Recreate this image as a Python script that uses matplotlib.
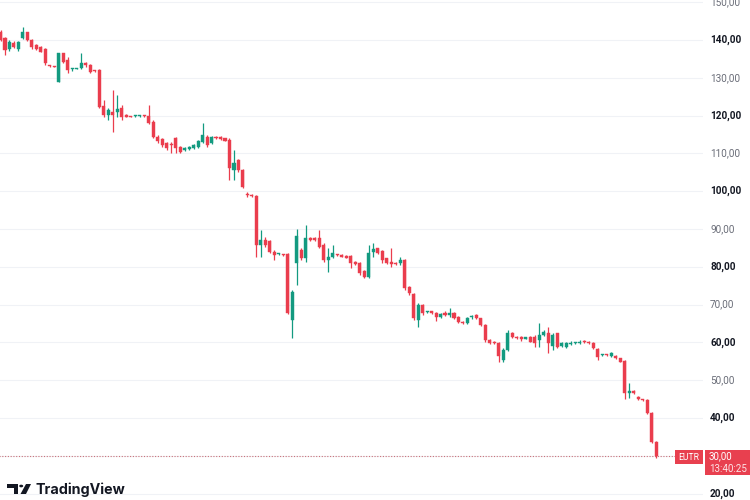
import matplotlib
matplotlib.use('Agg')
import matplotlib.pyplot as plt
from matplotlib.patches import Rectangle, Polygon, Circle

opens = [142.2,140.4,137.5,139.3,137.5,140.4,142.0,140.0,138.7,138.2,
         137.5,133.2,133.0,129.0,136.5,134.7,132.2,132.4,132.5,134.0,
         133.4,131.9,132.1,122.5,120.2,121.0,121.0,121.9,120.2,119.8,
         119.8,119.9,120.0,119.9,118.4,114.4,113.7,112.7,112.3,114.1,
         111.8,110.9,111.1,111.4,111.8,113.1,114.4,112.8,114.4,114.4,
         114.0,113.5,105.6,108.2,105.6,99.1,98.9,98.7,85.8,87.1,
         86.9,84.0,83.3,83.2,83.4,65.9,80.9,84.4,82.2,87.5,
         87.5,87.5,85.8,81.8,82.7,83.2,83.1,82.9,82.9,81.3,
         80.9,78.9,77.4,84.0,84.9,84.2,82.2,81.3,81.1,80.9,
         81.8,74.7,72.7,65.9,69.9,68.0,68.0,67.9,66.8,67.9,
         67.3,67.9,66.8,65.5,65.0,66.7,67.2,66.4,64.6,60.6,
         60.2,59.9,55.3,58.0,62.6,61.5,61.4,61.0,61.5,61.5,
         60.6,62.0,62.5,59.0,62.4,59.0,58.9,59.6,59.9,59.8,
         60.2,60.2,59.9,58.2,56.6,56.7,56.4,56.4,55.8,55.2,
         46.5,47.2,45.6,44.9,44.8,41.4,33.7]
highs = [142.6,140.7,140.0,139.7,139.8,143.5,142.2,140.2,138.9,138.4,
         137.8,133.3,133.2,136.6,136.6,135.6,132.5,132.7,136.5,134.3,
         133.6,132.1,132.2,124.1,121.9,126.8,125.4,122.8,120.4,120.0,
         120.1,120.2,120.2,122.8,118.8,114.9,114.0,113.1,113.1,114.4,
         112.0,111.6,112.0,112.4,113.5,118.0,114.9,114.7,114.7,114.6,
         114.2,114.1,110.9,108.4,105.8,99.9,99.2,99.0,89.7,88.0,
         87.1,84.4,83.6,83.5,83.7,73.9,89.9,84.9,91.1,88.0,
         87.8,89.7,86.2,84.9,85.8,83.5,83.4,83.1,83.1,81.6,
         81.3,79.1,85.8,86.2,85.0,84.4,82.4,84.9,81.3,82.7,
         82.1,75.0,73.0,70.3,70.1,68.4,68.3,68.1,67.8,68.2,
         69.0,68.1,67.0,65.7,66.6,67.2,67.5,66.5,64.9,60.9,
         60.4,60.2,58.4,63.3,62.8,61.8,61.6,61.3,61.8,62.0,
         65.0,63.3,64.1,62.4,62.6,60.0,60.2,60.3,60.2,60.6,
         60.7,60.4,60.2,58.4,56.9,56.9,57.4,56.6,56.0,55.3,
         49.2,47.5,45.8,45.1,45.0,41.6,34.0]
lows = [139.8,136.0,137.2,137.8,137.2,140.2,139.8,137.5,137.3,136.7,
        133.4,132.9,132.8,128.8,134.0,131.2,131.9,132.2,132.3,132.9,
        131.3,131.6,121.9,119.7,118.8,115.7,119.7,118.8,119.5,119.5,
        119.6,119.7,119.6,117.8,114.0,112.8,111.6,110.9,110.0,110.0,
        110.2,110.6,110.8,111.1,111.5,112.8,111.8,112.6,113.8,113.6,
        113.2,103.0,103.0,105.2,100.8,98.5,98.5,82.7,82.7,85.3,
        83.6,81.8,83.0,82.9,67.5,61.1,75.2,81.8,81.4,86.7,
        86.8,84.9,81.4,78.7,82.3,82.9,82.5,82.2,79.6,80.4,
        77.8,77.1,77.1,82.7,83.4,80.9,80.7,80.0,80.5,80.5,
        73.9,72.5,65.9,64.1,67.2,67.8,67.6,65.7,66.5,67.0,
        66.8,66.1,65.2,64.8,64.8,66.3,66.1,64.3,60.2,59.5,
        59.5,54.9,54.9,57.6,61.2,60.8,60.4,60.8,60.0,58.9,
        58.9,61.7,57.1,58.0,58.5,58.7,58.6,59.4,59.7,59.6,
        59.8,59.6,58.2,55.3,56.4,56.4,56.2,55.6,54.7,44.9,
        45.2,46.3,44.7,44.6,41.0,33.5,29.3]
closes = [140.0,137.4,139.5,138.2,139.5,142.2,140.0,138.1,137.5,136.9,
          133.8,133.0,132.9,136.5,134.3,132.1,132.3,132.5,133.8,133.4,
          131.6,131.8,122.4,120.2,121.5,120.2,121.7,119.7,119.7,119.7,
          119.9,120.0,119.8,118.1,114.4,113.4,112.2,111.3,112.1,111.3,
          110.4,111.3,111.8,112.2,113.3,114.9,112.2,114.4,114.0,113.8,
          113.4,106.1,107.4,105.6,101.2,98.9,98.8,85.8,87.1,85.8,
          84.0,83.1,83.4,83.1,67.7,73.4,88.1,82.2,87.5,87.1,
          87.1,85.3,81.8,82.7,83.6,83.1,82.7,82.4,80.9,80.7,
          78.3,77.4,83.6,84.7,83.6,81.8,80.9,80.7,80.7,81.8,
          74.3,73.0,66.4,69.9,67.7,68.1,67.9,66.8,67.5,67.3,
          67.7,66.4,65.5,65.0,66.4,67.0,66.4,64.6,60.6,59.8,
          59.8,56.4,58.0,62.6,61.5,61.1,60.9,61.1,60.2,59.8,
          62.0,62.8,59.8,62.0,58.9,59.8,59.8,59.9,60.0,60.2,
          60.1,59.8,58.4,56.2,56.7,56.6,57.1,55.8,54.9,46.5,
          47.2,46.5,44.9,44.8,41.2,33.7,30.0]

tick_values = [20, 30, 40, 50, 60, 70, 80, 90, 100, 110, 120, 130, 140, 150]
tick_labels = ['20,00', '30,00', '40,00', '50,00', '60,00', '70,00', '80,00',
               '90,00', '100,00', '110,00', '120,00', '130,00', '140,00', '150,00']
symbol = 'EUTR'
last_price_text = '30,00'
countdown_text = '13:40:25'
last_price = 30.0

UP = '#139a80'
DOWN = '#ea3d4d'

W, H = 750, 500
fig = plt.figure(figsize=(7.5, 5), dpi=100)
fig.patch.set_facecolor('white')
ax = fig.add_axes([0, 0, 703 / W, 1])
ax.set_facecolor('white')
for s in ax.spines.values():
    s.set_visible(False)
ax.set_xticks([])
ax.set_yticks([])

n = len(opens)
step = 4.49
ax.set_xlim(-0.5 / step, (703 - 0.5) / step)
ax.set_ylim(150.58 - 500 / 3.78, 150.58)

# grid
for v in tick_values:
    ax.axhline(v, color='#f0f2f6', lw=0.8, zorder=0)

xs = list(range(n))
cols = [UP if c >= o else DOWN for o, c in zip(opens, closes)]
ax.vlines(xs, lows, highs, colors=cols, lw=0.9, zorder=2)
bottoms = [min(o, c) for o, c in zip(opens, closes)]
heights = [max(abs(c - o), 0.3) for o, c in zip(opens, closes)]
ax.bar(xs, heights, bottom=bottoms, width=0.68, color=cols, edgecolor=cols,
       linewidth=0.3, zorder=3)

# last price dotted line
ax.plot([-1, (676 - 0.5) / step], [last_price, last_price], color='#c9727a',
        lw=0.8, ls=(0, (1, 1.5)), zorder=1)

# right price labels
ytr = ax.get_yaxis_transform()
for i, (v, lab) in enumerate(zip(tick_values, tick_labels)):
    if v == 30:
        continue
    strong = (v % 20 == 0)
    ax.text(710 / 703, v, lab, transform=ytr, ha='left', va='center',
            fontsize=7.2, family='Roboto',
            fontweight='bold' if strong else 'normal',
            color='#131722' if strong else '#6a6d78', clip_on=False)

# last price boxes
def px_rect(x0, y0, x1, y1, color):
    fig.patches.append(Rectangle((x0 / W, 1 - y1 / H), (x1 - x0) / W, (y1 - y0) / H,
                                 transform=fig.transFigure, facecolor=color,
                                 edgecolor='none', zorder=5))

px_rect(675, 450, 703, 464, '#e8404f')
fig.text(689 / W, 1 - 457 / H, symbol, ha='center', va='center', color='white',
         fontsize=6.2, family='Roboto', zorder=6)
px_rect(705, 450, 750, 475, '#e8404f')
fig.text(709 / W, 1 - 456.5 / H, last_price_text, ha='left', va='center', color='white',
         fontsize=7, family='Roboto', zorder=6)
fig.text(709 / W, 1 - 468.5 / H, countdown_text, ha='left', va='center', color='#fde5e7',
         fontsize=7, family='Roboto', zorder=6)

# TradingView logo
def px_poly(pts, color='#131722'):
    fig.patches.append(Polygon([(x / W, 1 - y / H) for x, y in pts], closed=True,
                               transform=fig.transFigure, facecolor=color,
                               edgecolor='none', zorder=6))

px_poly([(7, 484), (18, 484), (18, 494), (14, 494), (14, 488), (7, 488)])
fig.patches.append(Circle((21.2 / W, 1 - 486 / H), 2.0 / W, transform=fig.transFigure,
                          facecolor='#131722', edgecolor='none', zorder=6))
px_poly([(26, 484), (31, 484), (26, 494), (20.5, 494)])
fig.text(35.5 / W, 1 - 490 / H, 'TradingView', ha='left', va='center', color='#131722',
         fontsize=10.3, family='Inter', fontweight='bold', zorder=6)

fig.savefig('out.png', dpi=100, facecolor='white')
